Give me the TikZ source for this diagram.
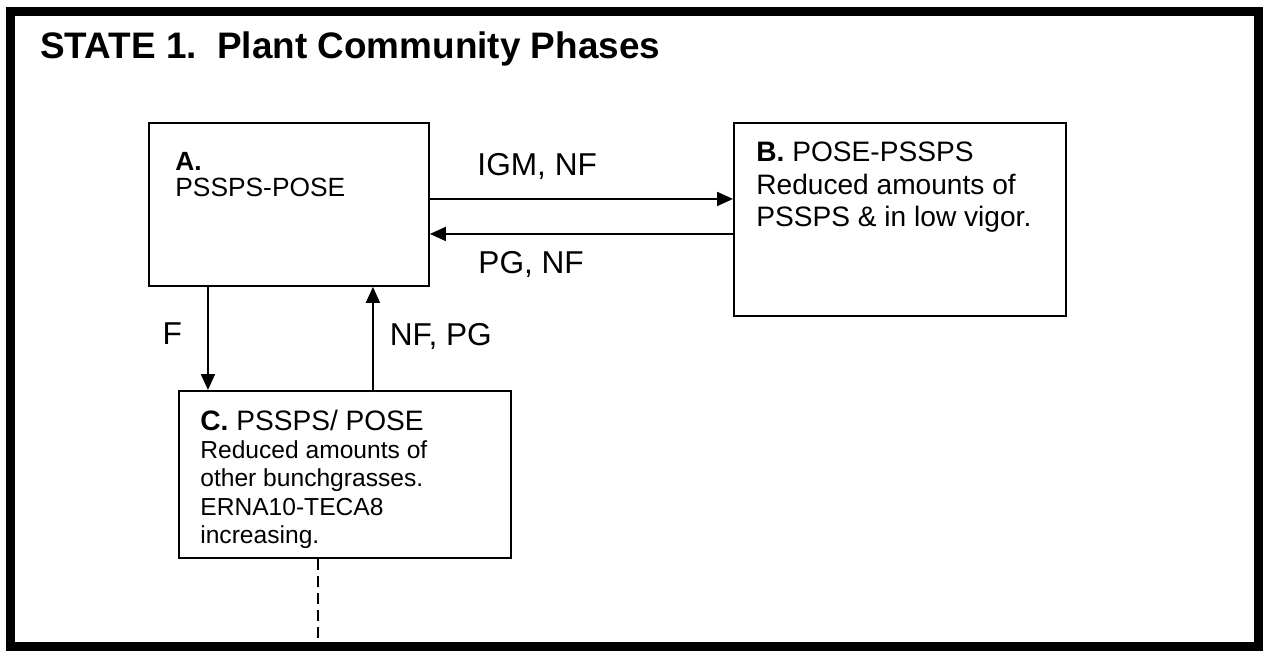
\documentclass[tikz,border=0pt]{standalone}
\usepackage{fontspec}
\setmainfont{Liberation Sans}
\usetikzlibrary{arrows.meta}

\begin{document}
\begin{tikzpicture}
		[x=0.02cm, y=-0.02cm,
		phase/.style={draw, line width=1.1pt, inner sep=0pt, anchor=north west},
		phasetext/.style={inner sep=0pt, anchor=north west, align=left},
		flow/.style={line width=1.1pt, -{Triangle[length=0.32cm, width=0.28cm]}},
		lbl/.style={inner sep=0pt, font=\fontsize{18}{20}\selectfont},
		]

		\useasboundingbox (0,0) rectangle (1264,650);
		\node[draw, line width=0.18cm, minimum width=24.98cm, minimum height=12.72cm, inner sep=0pt] (frame) at (634.5,329) {};
		\node[anchor=base west, inner sep=0pt, font=\bfseries\fontsize{21}{24}\selectfont] (title) at (40,58) {STATE 1.\ \ Plant Community Phases};

		\node[phase, minimum width=5.6cm, minimum height=3.26cm] (A) at (148,122) {};
		\node[phase, minimum width=6.64cm, minimum height=3.86cm] (B) at (733,122) {};
		\node[phase, minimum width=6.64cm, minimum height=3.34cm] (C) at (178,390) {};

		\node[phasetext, font=\fontsize{15}{15}\selectfont] (Atext) at ([shift={(27,30)}]A.north west)
			{\textbf{A.}\\PSSPS-POSE};
		\node[phasetext, font=\fontsize{16}{18.5}\selectfont] (Btext) at ([shift={(23,20)}]B.north west)
			{\textbf{B.} POSE-PSSPS\\Reduced amounts of\\PSSPS \& in low vigor.};
		\node[phasetext, font=\fontsize{14}{16}\selectfont] (Ctext) at ([shift={(22,20)}]C.north west)
			{{\fontsize{16}{16}\selectfont\textbf{C.} PSSPS/ POSE}\\Reduced amounts of\\other bunchgrasses.\\ERNA10-TECA8\\increasing.};

		% Pfeile zwischen den Phasen
		\coordinate (ABtop) at ([yshift=0.11cm]A.east);
		\coordinate (ABbot) at ([yshift=-0.59cm]A.east);
		\coordinate (AF) at ([xshift=-1.62cm]A.south);
		\coordinate (AN) at ([xshift=1.68cm]A.south);
		\coordinate (Cd) at ([xshift=-0.54cm]C.south);

		\draw[flow] (ABtop) -- (ABtop -| B.west)
			node[lbl, anchor=base, pos=0.354, yshift=0.46cm]{IGM, NF};
		\draw[flow] (ABbot -| B.west) -- (ABbot)
			node[lbl, anchor=base, pos=0.666, yshift=-0.8cm]{PG, NF};
		\draw[flow] (AF) -- (AF |- C.north)
			node[lbl, anchor=base east, pos=0.56, xshift=-0.5cm]{F};
		\draw[flow] (AN |- C.north) -- (AN)
			node[lbl, anchor=base west, pos=0.43, xshift=0.32cm]{NF, PG};
		\draw[line width=1.3pt, dash pattern=on 0.22cm off 0.12cm] (Cd) -- (Cd |- frame.south);
	\end{tikzpicture}
\end{document}
